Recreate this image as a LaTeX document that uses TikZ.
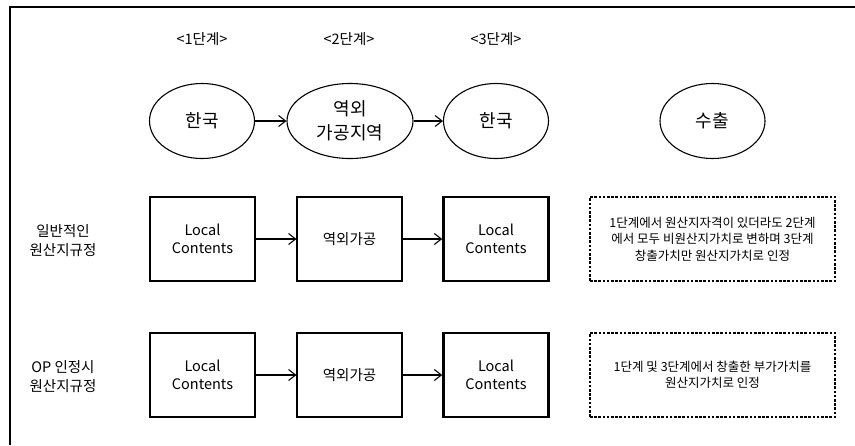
\documentclass[tikz,border=0pt]{standalone}
\usepackage{fontspec}
\setmainfont{Noto Sans CJK KR}
\usetikzlibrary{arrows.meta,shapes.geometric}
\begin{document}
\begin{tikzpicture}[x=1pt,y=-1pt,
  stage/.style={font=\fontsize{14.5}{17}\selectfont},
  place/.style={draw,line width=1.1pt,ellipse,minimum width=105pt,minimum height=75pt,inner sep=0pt,align=center,font=\fontsize{18}{24}\selectfont},
  rowlabel/.style={align=center,font=\fontsize{14.5}{19}\selectfont},
  stepbox/.style={draw,line width=1.1pt,minimum width=105pt,minimum height=84pt,inner sep=0pt,align=center,font=\fontsize{14.5}{18.5}\selectfont},
  boldbox/.style={stepbox,line width=2.6pt},
  notebox/.style={draw,dash pattern=on 2.6pt off 1.6pt,line width=1.1pt,minimum width=245pt,minimum height=84pt,inner sep=0pt,align=center,font=\fontsize{12.5}{16.5}\selectfont},
  flow/.style={draw,line width=1.1pt,-{Straight Barb[length=7pt,width=11pt,line width=1.1pt]}}
]
\useasboundingbox (0,0) rectangle (855,445);
\draw[line width=2pt] (855,7) -- (10,7);
\draw[line width=1.2pt] (10,6) -- (10,445);

\node[stage] (s1) at (202,39) {<1단계>};
\node[stage] (s2) at (349,39) {<2단계>};
\node[stage] (s3) at (496,39) {<3단계>};

\node[place] (e1) at (202,121) {한국};
\node[place,minimum width=126pt] (e2) at (350,121) {역외\\가공지역};
\node[place] (e3) at (496,121) {한국};
\node[place] (e4) at (712.5,121) {수출};
\path[flow] (e1) -- (e2);
\path[flow] (e2) -- (e3);

\node[rowlabel] (r1) at (63,241) {일반적인\\원산지규정};
\node[stepbox] (a1) at (202.5,239) {Local\\Contents};
\node[stepbox] (a2) at (349.5,239) {역외가공};
\node[boldbox] (a3) at (496,239) {Local\\Contents};
\node[notebox] (n1) at (712.5,239) {1단계에서 원산지자격이 있더라도 2단계\\에서 모두 비원산지가치로 변하며 3단계\\창출가치만 원산지가치로 인정};
\path[flow] (a1) -- (a2);
\path[flow] (a2) -- (a3);

\node[rowlabel] (r2) at (63,377) {OP 인정시\\원산지규정};
\node[boldbox] (b1) at (202.5,375) {Local\\Contents};
\node[stepbox] (b2) at (349.5,375) {역외가공};
\node[boldbox] (b3) at (496,375) {Local\\Contents};
\node[notebox] (n2) at (712.5,375) {1단계 및 3단계에서 창출한 부가가치를\\원산지가치로 인정};
\path[flow] (b1) -- (b2);
\path[flow] (b2) -- (b3);
\end{tikzpicture}
\end{document}
